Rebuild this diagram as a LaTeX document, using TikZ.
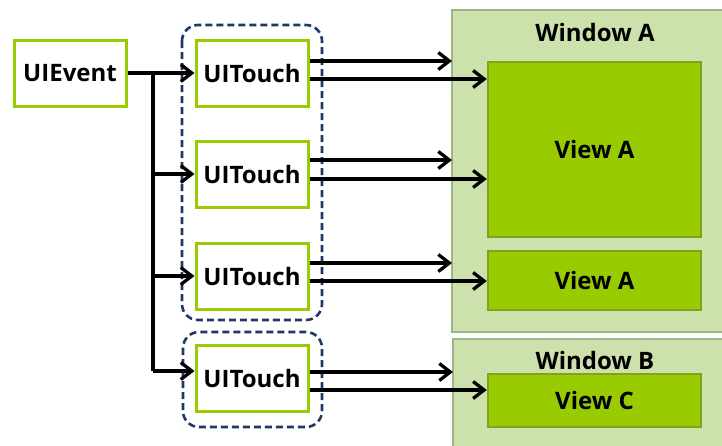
\documentclass[tikz,border=0pt]{standalone}
\usepackage{fontspec}
\setmainfont{Open Sans}
\usetikzlibrary{arrows.meta}
\definecolor{lime}{HTML}{99CC00}
\definecolor{viewedge}{HTML}{7FA31A}
\definecolor{winfill}{HTML}{CCE1AC}
\definecolor{winedge}{HTML}{9DB483}
\definecolor{navy}{HTML}{1F3864}
\tikzset{
  lbl/.style={font=\fontsize{24}{28}\selectfont\bfseries, text=black},
  objbox/.style={lbl, draw=lime, line width=3pt, fill=white,
    minimum width=112pt, minimum height=66pt, inner sep=0pt},
  groupbox/.style={draw=navy, line width=2.6pt, dash pattern=on 7pt off 4pt,
    rounded corners=16pt},
  winbox/.style={draw=winedge, fill=winfill, line width=2.4pt},
  viewbox/.style={lbl, draw=viewedge, fill=lime, line width=2.4pt,
    minimum width=213pt, inner sep=0pt},
  wire/.style={line width=3.3pt, black},
  arr/.style={wire, -{Straight Barb[length=11pt,width=17pt,line width=3.3pt]}},
}
\begin{document}
\begin{tikzpicture}[x=1pt,y=-1pt]
\useasboundingbox[fill=white] (0,0) rectangle (722,445);

% windows and their views
\draw[winbox] (452,10) rectangle (730,332);
\node[lbl] (wa) at (595,32) {Window A};
\draw[winbox] (453,339) rectangle (730,452);
\node[lbl] (wb) at (595,360) {Window B};
\coordinate (WA) at (452,10);
\coordinate (WB) at (453,339);
\node[viewbox, minimum height=175pt] (va1) at (594.5,149.5) {View A};
\node[viewbox, minimum height=59pt] (va2) at (594.5,280.5) {View A};
\node[viewbox, minimum height=53pt] (vc) at (594.5,400.5) {View C};

% touch groups
\draw[groupbox] (182,25) rectangle (322,320);
\draw[groupbox] (183,332) rectangle (322,427);

% event and touches
\node[objbox] (e) at (70,73) {UIEvent};
\node[objbox] (t1) at (252,73) {UITouch};
\node[objbox] (t2) at (252,174) {UITouch};
\node[objbox] (t3) at (252,276) {UITouch};
\node[objbox] (t4) at (252,378.5) {UITouch};

% event fan-out
\coordinate (j) at (153,73);
\coordinate (jend) at (153,371);
\draw[wire] (e.east) -- (j);
\draw[wire] (j) -- (jend);
\draw[arr] (j) -- (t1.west);
\draw[arr] (j |- t2.west) -- (t2.west);
\draw[arr] (j |- t3.west) -- (t3.west);
\draw[arr] (jend) -- (t4.west |- jend);

% touches to windows and views
\draw[arr] (t1.east |- 0,61) -- (WA |- 0,61);
\draw[arr] (t1.east |- 0,79) -- (va1.west |- 0,79);
\draw[arr] (t2.east |- 0,160) -- (WA |- 0,160);
\draw[arr] (t2.east |- 0,179) -- (va1.west |- 0,179);
\draw[arr] (t3.east |- 0,263) -- (WA |- 0,263);
\draw[arr] (t3.east |- 0,281) -- (va2.west |- 0,281);
\draw[arr] (t4.east |- 0,372) -- (WB |- 0,372);
\draw[arr] (t4.east |- 0,390) -- (vc.west |- 0,390);
\end{tikzpicture}
\end{document}
